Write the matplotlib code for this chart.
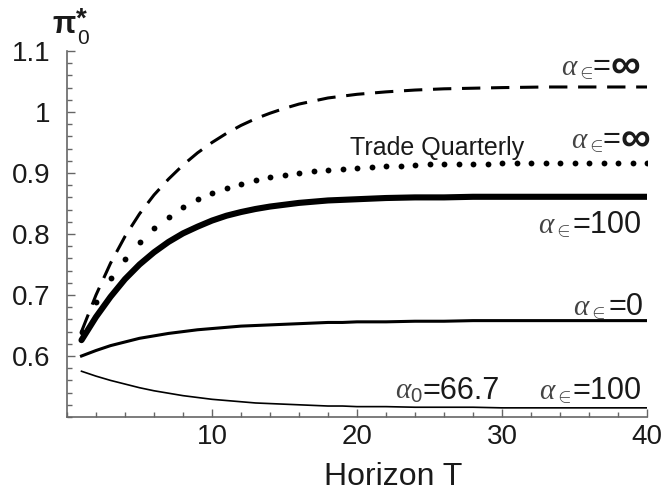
import numpy as np
import matplotlib
matplotlib.use("Agg")
import matplotlib.pyplot as plt
from matplotlib.ticker import MultipleLocator

plt.rcParams['font.family'] = ['Liberation Sans', 'DejaVu Sans']
plt.rcParams['mathtext.fontset'] = 'custom'
plt.rcParams['mathtext.rm'] = 'Liberation Sans'
plt.rcParams['mathtext.it'] = 'Liberation Serif:italic'
plt.rcParams['mathtext.bf'] = 'Liberation Sans:bold'

# data
T = [1, 2, 3, 4, 5, 6, 7, 8, 9, 10, 11, 12, 13, 14, 15, 16, 17, 18, 19, 20,
     22, 24, 26, 28, 30, 33, 36, 40]
pi_inf = [0.640, 0.700, 0.752, 0.796, 0.833, 0.864, 0.890, 0.913, 0.933, 0.950,
          0.965, 0.978, 0.989, 0.998, 1.006, 1.013, 1.018, 1.023, 1.026, 1.029,
          1.033, 1.036, 1.038, 1.039, 1.040, 1.041, 1.041, 1.041]
pi_100 = [0.626, 0.664, 0.697, 0.726, 0.750, 0.770, 0.787, 0.801, 0.812, 0.822,
          0.830, 0.836, 0.841, 0.845, 0.848, 0.851, 0.853, 0.855, 0.856, 0.857,
          0.859, 0.860, 0.860, 0.861, 0.861, 0.861, 0.861, 0.861]
pi_0 = [0.600, 0.609, 0.617, 0.623, 0.629, 0.633, 0.637, 0.640, 0.643, 0.645,
        0.647, 0.649, 0.650, 0.651, 0.652, 0.653, 0.654, 0.655, 0.655, 0.656,
        0.656, 0.657, 0.657, 0.658, 0.658, 0.658, 0.658, 0.658]
pi_667 = [0.575, 0.567, 0.560, 0.554, 0.548, 0.543, 0.539, 0.535, 0.532, 0.529,
          0.527, 0.525, 0.523, 0.522, 0.521, 0.520, 0.519, 0.518, 0.518, 0.517,
          0.517, 0.516, 0.516, 0.516, 0.515, 0.515, 0.515, 0.515]

# quarterly trading, one dot per period
Tq = list(range(1, 41))
pi_q = [0.640, 0.689, 0.728, 0.759, 0.787, 0.810, 0.828, 0.844, 0.857, 0.867,
        0.875, 0.882, 0.889, 0.893, 0.897, 0.900, 0.903, 0.905, 0.907, 0.909,
        0.910, 0.911, 0.912, 0.913, 0.914, 0.914, 0.915, 0.915, 0.915, 0.916,
        0.916, 0.916, 0.916, 0.916, 0.917, 0.917, 0.917, 0.917, 0.917, 0.917]

W, H = 663, 491
fig = plt.figure(figsize=(W/100, H/100), dpi=100)
ax = fig.add_axes([67/W, 1-417/H, 580/W, 366/H])

ax.plot(T, pi_inf, color='black', lw=2.2, dashes=(6, 3.5))
ax.plot(Tq, pi_q, 'o', color='black', ms=4.2, mew=0)
ax.plot(T, pi_100, color='black', lw=4.4, solid_capstyle='round')
ax.plot(T, pi_0, color='black', lw=2.2)
ax.plot(T, pi_667, color='black', lw=1.2)

ax.set_xlim(0, 40)
ax.set_ylim(0.5, 1.1)
ax.set_xticks([10, 20, 30, 40])
ax.set_yticks([0.6, 0.7, 0.8, 0.9, 1.0, 1.1])
ax.set_yticklabels(['0.6', '0.7', '0.8', '0.9', '1', '1.1'])
ax.xaxis.set_minor_locator(MultipleLocator(2))
ax.yaxis.set_minor_locator(MultipleLocator(0.02))
ax.tick_params(which='both', direction='in', color='0.4', labelsize=20, width=1,
               labelcolor='#1a1a1a')
ax.tick_params(which='major', length=6)
ax.tick_params(which='minor', length=3.5)
ax.tick_params(axis='y', pad=12)
ax.tick_params(axis='x', pad=5)
for s in ['top', 'right']:
    ax.spines[s].set_visible(False)
for s in ['left', 'bottom']:
    ax.spines[s].set_color('0.4')
    ax.spines[s].set_linewidth(1.2)
ax.patch.set_visible(False)

tc = '#1a1a1a'


def ftxt(x, y, s, **kw):
    # place text by pixel position (from top-left), baseline anchored
    kw.setdefault('color', tc)
    fig.text(x/W, 1-y/H, s, ha='left', va='baseline', **kw)


def alpha_label(ax_px, eq_px, y_px, sub, rest, inf=False):
    ftxt(ax_px, y_px, r'$\alpha_{%s}$' % sub, fontsize=21, color='#444444')
    if inf:
        ftxt(eq_px, y_px, '=', fontsize=22)
        ftxt(eq_px + 17, y_px + 3, '∞', fontsize=30, fontweight='bold')
    else:
        ftxt(eq_px, y_px, rest, fontsize=22)


alpha_label(561, 593, 75, r'\in', '', inf=True)
ftxt(350, 155, 'Trade Quarterly', fontsize=18)
alpha_label(571, 603, 148, r'\in', '', inf=True)
alpha_label(538, 573, 233, r'\in', '=100')
alpha_label(573, 608, 315, r'\in', '=0')
alpha_label(395, 423, 399, '0', '=66.7')
alpha_label(539, 573, 399, r'\in', '=100')

fig.text(393/W, 1-485/H, 'Horizon T', ha='center', va='baseline', fontsize=23, color=tc)
ftxt(52, 33, 'π', fontsize=22, fontweight='bold')
ftxt(77, 44, '0', fontsize=15)
ftxt(76, 27, '*', fontsize=20, fontweight='bold')

fig.savefig('out.png', dpi=100)
